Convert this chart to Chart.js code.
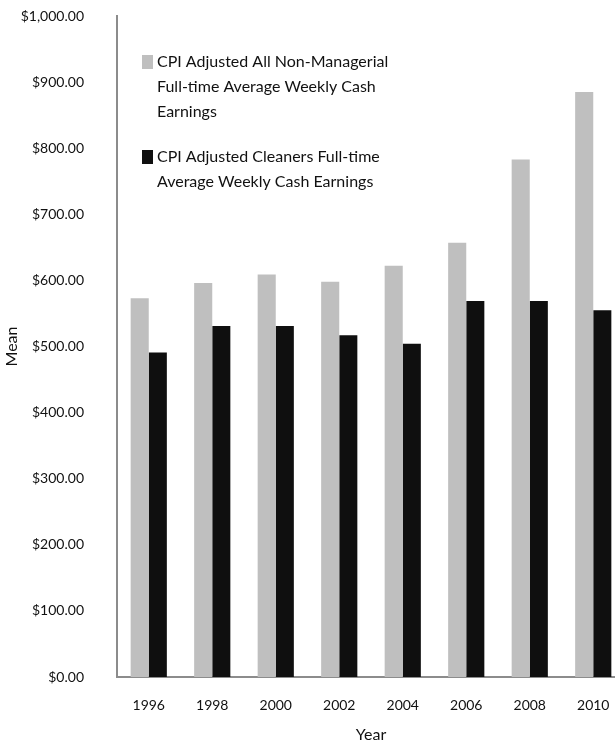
<!DOCTYPE html>
<html>
<head>
<meta charset="utf-8">
<script src="https://cdn.jsdelivr.net/npm/chart.js@4"></script>
<style>
  html, body { margin: 0; padding: 0; background: #fff; overflow: hidden; }
  #wrap { width: 630px; height: 748px; }
</style>
</head>
<body>
<div id="wrap"><canvas id="chart_earnings"></canvas></div>
<script>
const years = ['1996', '1998', '2000', '2002', '2004', '2006', '2008', '2010'];
const allNonManagerial = [573, 596, 609, 598, 622, 657, 783, 885];
const cleaners = [491, 531, 531, 517, 504, 569, 569, 555];
const legendAll = ['CPI Adjusted All Non-Managerial', 'Full-time Average Weekly Cash', 'Earnings'];
const legendCleaners = ['CPI Adjusted Cleaners Full-time', 'Average Weekly Cash Earnings'];

const fontFamily = 'Lato, "Open Sans", sans-serif';
const textColor = '#111';

// legend sits inside the plot, so draw it ourselves
const innerLegend = {
    id: 'innerLegend',
    afterDraw(chart) {
        let ctx = chart.ctx;
        let area = chart.chartArea;
        let x = area.left + 25;
        let y = area.top + 39;
        ctx.save();
        ctx.font = '16px ' + fontFamily;
        ctx.textBaseline = 'middle';
        chart.data.datasets.forEach(ds => {
            ctx.fillStyle = ds.backgroundColor;
            ctx.fillRect(x, y, 11, 14);
            ctx.fillStyle = textColor;
            ds.legendLines.forEach((line, i) => {
                ctx.fillText(line, x + 15, y + 7 + i * 25);
            });
            y += ds.legendLines.length * 25 + 20;
        });
        ctx.restore();
    }
};

new Chart(document.getElementById('chart_earnings'), {
    type: 'bar',
    data: {
        labels: years,
        datasets: [
            {
                label: legendAll.join(' '),
                legendLines: legendAll,
                data: allNonManagerial,
                backgroundColor: '#bfbfbf',
                categoryPercentage: 0.57,
                barPercentage: 1.0
            },
            {
                label: legendCleaners.join(' '),
                legendLines: legendCleaners,
                data: cleaners,
                backgroundColor: '#0f0f0f',
                categoryPercentage: 0.57,
                barPercentage: 1.0
            }
        ]
    },
    options: {
        responsive: true,
        maintainAspectRatio: false,
        animation: false,
        layout: { padding: { top: 0, right: 5, left: 0, bottom: 0 } },
        plugins: {
            legend: { display: false },
            tooltip: { enabled: false }
        },
        scales: {
            x: {
                grid: { display: false, drawTicks: false },
                border: { display: true, color: '#8c8c8c', width: 2 },
                ticks: { color: textColor, font: { family: fontFamily, size: 14 }, padding: 20 },
                title: { display: true, text: 'Year', color: textColor, font: { family: fontFamily, size: 16 }, padding: { top: 0, bottom: 4 } },
                afterFit(scale) { scale.height = 71; }
            },
            y: {
                min: 0,
                max: 1000,
                grid: { display: false, drawTicks: false },
                border: { display: true, color: '#8c8c8c', width: 2 },
                ticks: {
                    stepSize: 100,
                    color: textColor,
                    font: { family: fontFamily, size: 14 },
                    padding: 33,
                    callback: v => '$' + v.toLocaleString('en-US', { minimumFractionDigits: 2, maximumFractionDigits: 2 })
                },
                title: { display: true, text: 'Mean', color: textColor, font: { family: fontFamily, size: 16 }, padding: { top: 2, bottom: 0 } },
                afterFit(scale) {
                    scale.width = 117;
                    scale.paddingTop = 16;
                    scale.paddingBottom = 0;
                }
            }
        }
    },
    plugins: [innerLegend]
});
</script>
</body>
</html>
